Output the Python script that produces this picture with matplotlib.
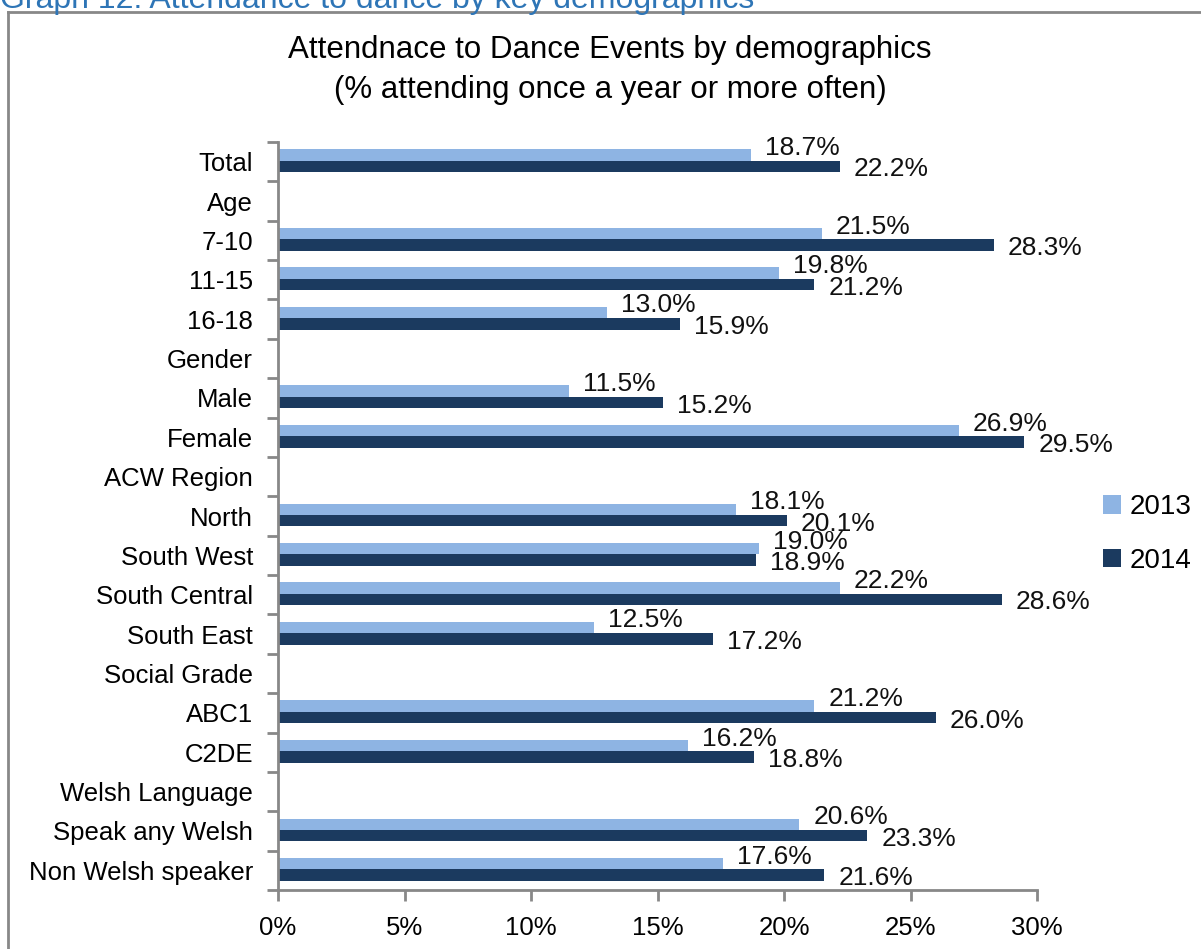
import numpy as np
import matplotlib.pyplot as plt
from matplotlib.lines import Line2D
from matplotlib.ticker import FuncFormatter

categories = ['Total', 'Age', '7-10', '11-15', '16-18', 'Gender', 'Male', 'Female',
              'ACW Region', 'North', 'South West', 'South Central', 'South East',
              'Social Grade', 'ABC1', 'C2DE', 'Welsh Language', 'Speak any Welsh',
              'Non Welsh speaker']
vals_2013 = [18.7, None, 21.5, 19.8, 13.0, None, 11.5, 26.9, None, 18.1, 19.0, 22.2,
             12.5, None, 21.2, 16.2, None, 20.6, 17.6]
vals_2014 = [22.2, None, 28.3, 21.2, 15.9, None, 15.2, 29.5, None, 20.1, 18.9, 28.6,
             17.2, None, 26.0, 18.8, None, 23.3, 21.6]
years = ['2013', '2014']
colors = ['#8EB4E3', '#1B3A5F']

plt.rcParams['font.family'] = ['Liberation Sans', 'DejaVu Sans']

fig = plt.figure(figsize=(12.01, 9.49), dpi=100)
ax = fig.add_axes([278 / 1201, 1 - 890 / 949, (1037 - 278) / 1201, (890 - 142) / 949])

y = np.arange(len(categories))
h = 0.29
bars = []
for k, (vals, c) in enumerate(zip([vals_2013, vals_2014], colors)):
    v = np.array([np.nan if x is None else x for x in vals])
    pos = y - h / 2 - 0.025 + k * h
    b = ax.barh(pos, np.nan_to_num(v), height=h, color=c, label=years[k])
    bars.append(b)
    # value labels just past the bar ends
    for p, val in zip(pos, vals):
        if val is None:
            continue
        dy = 7 if k == 0 else -3
        ax.annotate(f'{val:.1f}%', (val, p), xytext=(14, dy), textcoords='offset pixels',
                    ha='left', va='center', fontsize=19, color='#111111')

ax.set_ylim(len(categories) - 0.5, -0.5)
ax.set_xlim(0, 30)
ax.set_xticks(np.arange(0, 31, 5))
ax.xaxis.set_major_formatter(FuncFormatter(lambda x, _: f'{x:.0f}%'))
ax.set_yticks(np.arange(-0.5, len(categories), 1))
ax.set_yticklabels([])
ax.set_yticks(y, minor=True)
ax.set_yticklabels(categories, minor=True, fontsize=18.5)
ax.tick_params(axis='y', which='minor', length=0, pad=18)
ax.tick_params(axis='y', which='major', length=8, width=2, color='#888888', direction='out')
ax.tick_params(axis='x', length=8, width=2, color='#888888', direction='out', pad=11,
               labelsize=18.5)
for s in ['top', 'right']:
    ax.spines[s].set_visible(False)
for s in ['left', 'bottom']:
    ax.spines[s].set_color('#888888')
    ax.spines[s].set_linewidth(2)

fig.legend(handles=bars, labels=years, loc='center left', bbox_to_anchor=(1078 / 1201, 1 - 534 / 949),
           frameon=False, fontsize=20, handlelength=0.65, handleheight=0.65, handletextpad=0.3,
           labelspacing=1.0)

fig.text(610 / 1201, 1 - 50 / 949, 'Attendnace to Dance Events by demographics',
         ha='center', va='center', fontsize=22.5)
fig.text(610 / 1201, 1 - 90 / 949, '(% attending once a year or more often)',
         ha='center', va='center', fontsize=22.5)
fig.text(0, 1.0, 'Graph 12: Attendance to dance by key demographics',
         ha='left', va='center', fontsize=23, color='#2E75B6')

fig.add_artist(Line2D([8 / 1201, 8 / 1201], [0, 1 - 12 / 949], color='#888888', lw=2))
fig.add_artist(Line2D([8 / 1201, 1], [1 - 12 / 949, 1 - 12 / 949], color='#888888', lw=2))

fig.savefig('out.png', dpi=100)
